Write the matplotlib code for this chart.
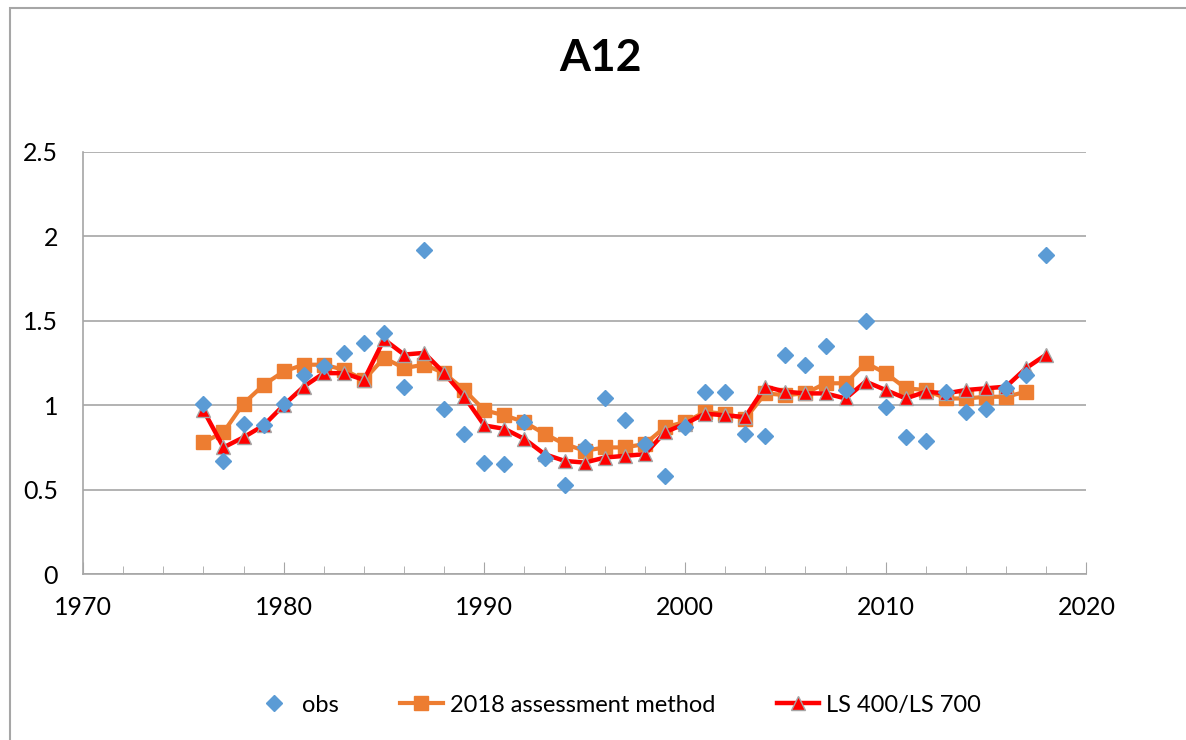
import matplotlib.pyplot as plt
from matplotlib.patches import Rectangle
from matplotlib.ticker import MultipleLocator

plt.rcParams['font.family'] = ['Lato', 'DejaVu Sans']

years_obs = list(range(1976, 2019))
obs = [1.01, 0.67, 0.89, 0.88, 1.01, 1.18, 1.23, 1.31, 1.37, 1.43,
       1.11, 1.92, 0.98, 0.83, 0.66, 0.65, 0.90, 0.69, 0.53, 0.75,
       1.04, 0.91, 0.77, 0.58, 0.87, 1.08, 1.08, 0.83, 0.82, 1.30,
       1.24, 1.35, 1.09, 1.50, 0.99, 0.81, 0.79, 1.08, 0.96, 0.98,
       1.10, 1.18, 1.89]

years_assess = list(range(1976, 2018))
assess = [0.78, 0.84, 1.01, 1.12, 1.20, 1.24, 1.24, 1.21, 1.15, 1.28,
          1.22, 1.24, 1.19, 1.09, 0.97, 0.94, 0.90, 0.83, 0.77, 0.73,
          0.75, 0.75, 0.77, 0.87, 0.90, 0.96, 0.95, 0.92, 1.07, 1.06,
          1.07, 1.13, 1.13, 1.25, 1.19, 1.10, 1.09, 1.04, 1.04, 1.05,
          1.05, 1.08]

years_ls = list(range(1976, 2019))
ls = [0.97, 0.75, 0.81, 0.88, 1.00, 1.11, 1.19, 1.19, 1.15, 1.39,
      1.30, 1.31, 1.19, 1.05, 0.88, 0.86, 0.80, 0.71, 0.67, 0.66,
      0.69, 0.70, 0.71, 0.84, 0.89, 0.95, 0.94, 0.93, 1.11, 1.08,
      1.07, 1.07, 1.04, 1.14, 1.09, 1.04, 1.08, 1.07, 1.09, 1.10,
      1.11, 1.22, 1.30]

fig = plt.figure(figsize=(11.86, 7.40), dpi=100)
ax = fig.add_axes([0.070, 0.2243, 0.846, 0.5703])

ax.plot(years_assess, assess, color='#ED7D31', lw=3, marker='s', ms=10,
        mec='#ED7D31', label='2018 assessment method', zorder=3)
ax.plot(years_ls, ls, color='#FF0000', lw=3.2, marker='^', ms=10,
        mec='#A5A5A5', mew=1, label='LS 400/LS 700', zorder=4)
ax.plot(years_obs, obs, ls='none', marker='D', ms=8, color='#5B9BD5',
        label='obs', zorder=5)

ax.set_xlim(1970, 2020)
ax.set_ylim(0, 2.5)
ax.xaxis.set_major_locator(MultipleLocator(10))
ax.xaxis.set_minor_locator(MultipleLocator(2))
ax.yaxis.set_major_locator(MultipleLocator(0.5))
ax.yaxis.set_major_formatter(plt.FuncFormatter(lambda v, p: f'{v:g}'))
ax.grid(axis='y', color='#A6A6A6', lw=1.2)
ax.set_axisbelow(True)
for s in ['top', 'right']:
    ax.spines[s].set_visible(False)
for s in ['left', 'bottom']:
    ax.spines[s].set_color('#A6A6A6')
    ax.spines[s].set_linewidth(1.2)
ax.tick_params(axis='x', which='major', direction='in', length=9,
               color='#A6A6A6', labelsize=18, pad=16)
ax.tick_params(axis='x', which='minor', direction='in', length=6,
               color='#A6A6A6')
ax.tick_params(axis='y', length=0, labelsize=18, pad=18)

fig.text(0.506, 0.922, 'A12', ha='center', va='center', fontsize=32,
         fontweight='bold')

h, l = ax.get_legend_handles_labels()
order = [2, 0, 1]
fig.legend([h[i] for i in order], [l[i] for i in order], loc='center',
           bbox_to_anchor=(0.52, 0.047), ncol=3, frameon=False, fontsize=17,
           handlelength=1.8, columnspacing=2.6, handletextpad=0.3)

fig.patches.append(Rectangle((10 / 1186, -0.1), 1.2, 1 - 8 / 740 + 0.1,
                             transform=fig.transFigure, fill=False,
                             edgecolor='#A6A6A6', lw=1.5))

fig.savefig('out.png')
